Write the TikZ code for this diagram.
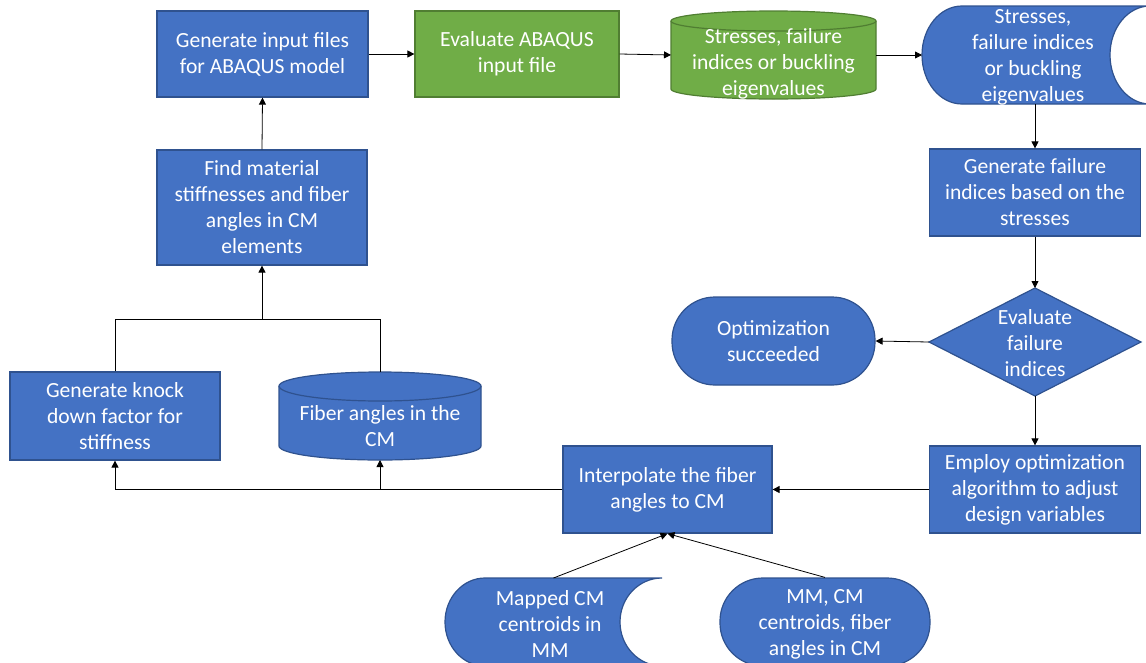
\documentclass[tikz,border=0pt]{standalone}
\usepackage{fontspec}
\setmainfont{Carlito}
\usetikzlibrary{arrows.meta}
\definecolor{bfill}{HTML}{4472C4}
\definecolor{bline}{HTML}{2F528F}
\definecolor{gfill}{HTML}{70AD47}
\definecolor{gline}{HTML}{507E32}
\begin{document}
\begin{tikzpicture}[x=1pt,y=-1pt,
  font=\fontsize{21.6}{26}\selectfont,
  box/.style={draw=bline, fill=bfill, line width=1.2pt, text=white, align=center, inner sep=0pt},
  gbox/.style={box, draw=gline, fill=gfill},
  area/.style={inner sep=0pt, outer sep=0pt},
  txt/.style={text=white, align=center, inner sep=0pt},
  arr/.style={-{Triangle[length=7pt,width=7pt]}, line width=0.8pt},
  ln/.style={line width=0.8pt}]
\clip (0,0) rectangle (1146,662);
\useasboundingbox (0,0) rectangle (1146,662);

% rectangles
\node[box, minimum width=211pt, minimum height=86pt] (n1) at (262.5,54) {Generate input files\\for ABAQUS model};
\node[gbox, minimum width=204pt, minimum height=86pt] (n2) at (517,54) {Evaluate ABAQUS\\input file};
\node[box, minimum width=211pt, minimum height=87pt] (n5) at (1035,192.5) {Generate failure\\indices based on the\\stresses};
\node[box, minimum width=211pt, minimum height=87pt] (n8) at (1035,489.5) {Employ optimization\\algorithm to adjust\\design variables};
\node[box, minimum width=209pt, minimum height=87pt] (n9) at (667.5,489.5) {Interpolate the fiber\\angles to CM};
\node[box, minimum width=210pt, minimum height=88pt] (n10) at (115,416) {Generate knock\\down factor for\\stiffness};
\node[box, minimum width=210pt, minimum height=115pt] (n12) at (262,207.5) {Find material\\stiffnesses and fiber\\angles in CM\\elements};
\node[box, rounded corners=43pt, minimum width=203pt, minimum height=88pt] (n7) at (773.5,341) {Optimization\\succeeded};
\node[box, rounded corners=43pt, minimum width=210pt, minimum height=88pt] (n14) at (825,622) {};
\node[txt] at (825,624) {MM, CM\\centroids, fiber\\angles in CM};

% green cylinder
\path[gbox] (671,21) -- (671,89) arc[start angle=180,end angle=0,x radius=102.5,y radius=10]
  -- (876,21) arc[start angle=0,end angle=-180,x radius=102.5,y radius=10] -- cycle;
\draw[gline, line width=1.2pt] (671,21) arc[start angle=180,end angle=0,x radius=102.5,y radius=10];
\node[area, minimum width=205pt, minimum height=88pt] (n3) at (773.5,55) {};
\node[txt] at (773.5,64) {Stresses, failure\\indices or buckling\\eigenvalues};

% blue cylinder
\path[box] (279,386) -- (279,446) arc[start angle=180,end angle=0,x radius=101,y radius=14]
  -- (481,386) arc[start angle=0,end angle=-180,x radius=101,y radius=14] -- cycle;
\draw[bline, line width=1.2pt] (279,386) arc[start angle=180,end angle=0,x radius=101,y radius=15];
\node[area, minimum width=202pt, minimum height=88pt] (n11) at (380,416) {};
\node[txt] at (380,426) {Fiber angles in the\\CM};

% stored data top right
\path[box] (962,6) -- (1150,6) arc[start angle=270,end angle=90,x radius=40,y radius=49]
  -- (962,104) arc[start angle=90,end angle=270,x radius=40,y radius=49] -- cycle;
\node[area, minimum width=226pt, minimum height=98pt] (n4) at (1035,55) {};
\node[txt] at (1033,57) {Stresses,\\failure indices\\or buckling\\eigenvalues};

% stored data bottom
\path[box] (485,578) -- (662,578) arc[start angle=270,end angle=90,x radius=42,y radius=44]
  -- (485,666) arc[start angle=90,end angle=270,x radius=40,y radius=44] -- cycle;
\node[area, minimum width=217pt, minimum height=88pt] (n13) at (553.5,622) {};
\node[txt] at (550,624) {Mapped CM\\centroids in\\MM};

% diamond
\path[box] (929,342) -- (1035,288) -- (1141,342) -- (1035,396) -- cycle;
\node[area, minimum width=212pt, minimum height=108pt] (n6) at (1035,342) {};
\node[txt] at (1035,343) {Evaluate\\failure\\indices};

% connectors
\draw[arr] (n1.east) -- (n2.west);
\draw[arr] (n2.east) -- (n3.west);
\draw[arr] (n3.east) -- (n4.west);
\draw[arr] (n4.south) -- (n5.north);
\draw[arr] (n5.south) -- (n6.north);
\draw[arr] (n6.west) -- (n7.east);
\draw[arr] (n6.south) -- (n8.north);
\draw[arr] (n8.west) -- (n9.east);
\draw[arr] (n9.west) -| (n10.south);
\draw[arr] (n9.west) -| (n11.south);
\coordinate (j) at (262,319);
\draw[ln] (n10.north) |- (j);
\draw[ln] (n11.north) |- (j);
\draw[arr] (j) -- (n12.south);
\draw[arr] (n12.north) -- (n1.south);
\draw[arr] (n13.north) -- (n9.south);
\draw[arr] (n14.north) -- (n9.south);
\end{tikzpicture}
\end{document}
